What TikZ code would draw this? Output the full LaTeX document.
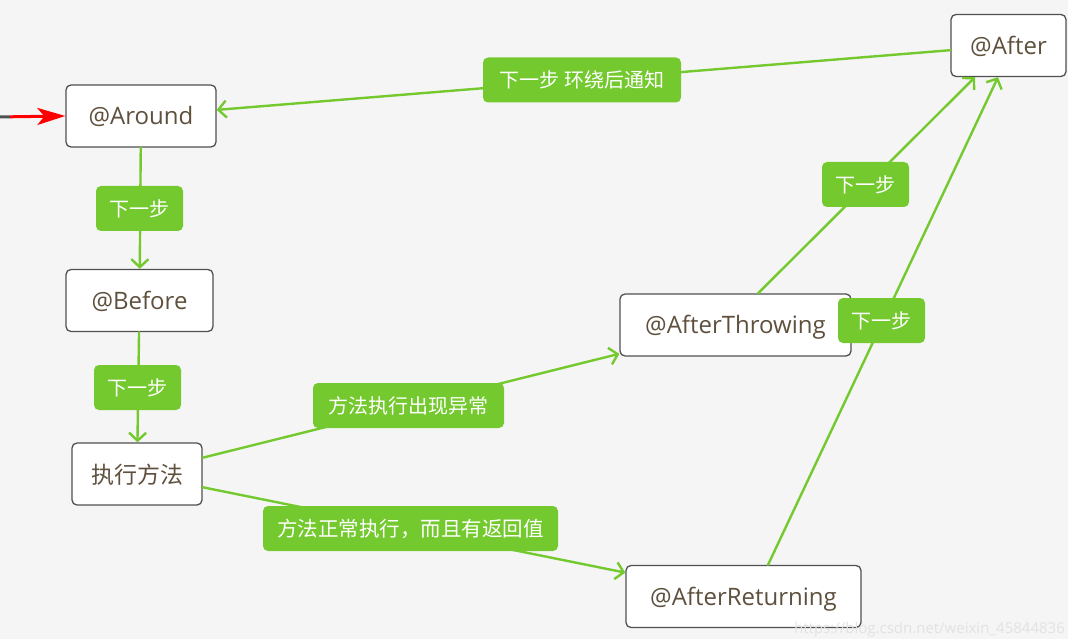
\documentclass[tikz,border=0pt]{standalone}
\usepackage{fontspec}
\setmainfont{Open Sans}
\newfontfamily\cjk{Noto Sans CJK SC}
\usetikzlibrary{arrows.meta}
\definecolor{bg}{RGB}{245,245,245}
\definecolor{grn}{RGB}{115,201,46}
\definecolor{txt}{RGB}{95,80,62}
\definecolor{bord}{RGB}{80,80,80}
\definecolor{wm}{RGB}{226,226,226}
\tikzset{
  box/.style={draw=bord, line width=1.3pt, fill=white, rounded corners=5pt, text=txt,
    font=\fontsize{24}{26}\selectfont, inner sep=0pt, minimum height=62pt,
    text depth=1pt},
  lab/.style={fill=grn, rounded corners=5pt, text=white,
    font=\cjk\fontsize{20}{22}\selectfont, inner sep=0pt, minimum height=45pt},
  conn/.style={draw=grn, line width=2.4pt, line cap=round,
    -{Straight Barb[length=8pt,width=17pt,line width=2.4pt]}}
}
\begin{document}
\begin{tikzpicture}[x=1pt,y=-1pt]
\fill[bg] (0,0) rectangle (1068,639);
\useasboundingbox (0,0) rectangle (1068,639);
% boxes
\node[box, minimum width=150pt] (around) at (141,116) {@Around};
\node[box, minimum width=147pt] (before) at (139.5,300.5) {@Before};
\node[box, minimum width=130pt, font=\cjk\fontsize{23}{25}\selectfont] (exec) at (137,474) {执行方法};
\node[box, minimum width=231pt] (throwing) at (735.5,325) {@AfterThrowing};
\node[box, minimum width=235pt] (returning) at (743.5,596.5) {@AfterReturning};
\node[box, minimum width=115pt] (after) at (1008.5,45.5) {@After};
% incoming red arrow
\coordinate (start) at (0,117);
\coordinate (redstart) at (10,116.8);
\draw[draw=bord, line width=3pt] (start) -- (redstart);
\draw[red, line width=3pt, -{Stealth[length=28pt,width=17pt,inset=7pt]}] (redstart) -- (around.west);
% connectors
\draw[conn] (after) -- (around);
\draw[conn] (around) -- (before);
\draw[conn] (before) -- (exec);
\draw[conn] (exec) -- (throwing);
\draw[conn] (exec) -- (returning);
\draw[conn] ([xshift=22.5pt]throwing.north) -- ([xshift=-33.5pt]after.south);
\draw[conn] ([xshift=24.5pt]returning.north) -- ([xshift=-10.5pt]after.south);
% labels
\node[lab, minimum width=198pt] (l1) at (582,80) {下一步 环绕后通知};
\node[lab, minimum width=87pt] (l2) at (139.5,208.5) {下一步};
\node[lab, minimum width=87pt] (l3) at (137.5,387.5) {下一步};
\node[lab, minimum width=191pt] (l4) at (408.5,405.5) {方法执行出现异常};
\node[lab, minimum width=295pt, font=\cjk\fontsize{20.5}{22}\selectfont] (l5) at (410.5,528.5) {方法正常执行，而且有返回值};
\node[lab, minimum width=87pt] (l6) at (865.5,184.5) {下一步};
\node[lab, minimum width=87pt] (l7) at (881.5,320.5) {下一步};
% watermark
\node[anchor=west, text=wm, inner sep=0pt, font=\fontsize{15}{17}\selectfont] (wmark) at (794,630) {https://blog.csdn.net/weixin\_45844836};
\end{tikzpicture}
\end{document}
